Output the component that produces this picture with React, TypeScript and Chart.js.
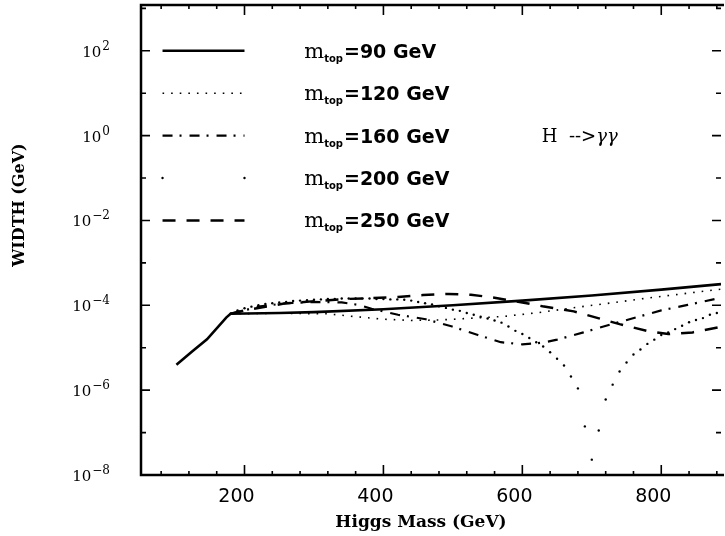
import React, { useEffect, useRef } from "react";
import { Chart, registerables } from "chart.js";

Chart.register(...registerables);

// Higgs mass (GeV) and H -> gamma gamma width (GeV), one pair of arrays per top mass
const mass90 = [102, 125, 146, 174, 180, 250, 300, 400, 500, 600, 700, 800, 886];
const width90 = [3.98e-6, 8.3e-6, 1.58e-5, 5.2e-5, 6.3e-5, 6.6e-5, 6.9e-5, 8.1e-5, 1.0e-4, 1.29e-4, 1.7e-4, 2.34e-4, 3.16e-4];

const mass120 = [180, 250, 320, 360, 400, 440, 480, 530, 575, 625, 690, 730, 780, 830, 886];
const width120 = [6.3e-5, 6.5e-5, 6.3e-5, 5.4e-5, 4.7e-5, 4.4e-5, 4.5e-5, 5.0e-5, 5.5e-5, 6.8e-5, 9.5e-5, 1.15e-4, 1.48e-4, 1.86e-4, 2.4e-4];

const mass160 = [180, 220, 260, 300, 340, 365, 383, 421, 461, 499, 536, 569, 600, 630, 650, 688, 726, 764, 800, 838, 886];
const width160 = [6.3e-5, 9.3e-5, 1.12e-4, 1.2e-4, 1.17e-4, 1.02e-4, 8.3e-5, 6.0e-5, 4.7e-5, 3.16e-5, 2.0e-5, 1.35e-5, 1.2e-5, 1.32e-5, 1.55e-5, 2.3e-5, 3.5e-5, 5.2e-5, 7.6e-5, 1.02e-4, 1.51e-4];

const mass200 = [180, 190, 200, 210, 220, 230, 240, 250, 260, 270, 280, 290, 300, 310, 320, 330, 340, 350, 360, 370, 380, 390, 400, 410, 420, 430, 440, 450, 460, 470, 480, 490, 500, 510, 520, 530, 540, 550, 560, 570, 580, 590, 600, 610, 620, 630, 640, 650, 660, 670, 680, 690, 700, 710, 720, 730, 740, 750, 760, 770, 780, 790, 800, 810, 820, 830, 840, 850, 860, 870, 880];
const width200 = [6.3e-5, 7.6e-5, 8.5e-5, 9.3e-5, 1.0e-4, 1.07e-4, 1.12e-4, 1.17e-4, 1.2e-4, 1.26e-4, 1.29e-4, 1.32e-4, 1.35e-4, 1.38e-4, 1.41e-4, 1.41e-4, 1.45e-4, 1.45e-4, 1.45e-4, 1.45e-4, 1.45e-4, 1.41e-4, 1.41e-4, 1.38e-4, 1.38e-4, 1.35e-4, 1.29e-4, 1.2e-4, 1.12e-4, 1.05e-4, 9.5e-5, 8.7e-5, 7.9e-5, 7.4e-5, 6.6e-5, 6.0e-5, 5.4e-5, 4.9e-5, 4.4e-5, 3.9e-5, 3.16e-5, 2.5e-5, 2.1e-5, 1.7e-5, 1.35e-5, 1.07e-5, 7.8e-6, 5.5e-6, 3.8e-6, 2.1e-6, 1.1e-6, 1.4e-7, 2.3e-8, 1.12e-7, 6.0e-7, 1.35e-6, 2.75e-6, 4.5e-6, 6.9e-6, 9.1e-6, 1.23e-5, 1.55e-5, 2.0e-5, 2.3e-5, 2.75e-5, 3.3e-5, 4.0e-5, 4.5e-5, 5.0e-5, 6.0e-5, 6.6e-5];

const mass250 = [180, 200, 257, 302, 347, 381, 421, 457, 493, 526, 560, 600, 629, 674, 709, 740, 779, 810, 845, 886];
const width250 = [6.3e-5, 7.6e-5, 1.1e-4, 1.26e-4, 1.41e-4, 1.48e-4, 1.58e-4, 1.74e-4, 1.86e-4, 1.78e-4, 1.51e-4, 1.17e-4, 9.5e-5, 7.2e-5, 5.0e-5, 3.6e-5, 2.5e-5, 2.1e-5, 2.3e-5, 3.1e-5];

const topMasses = ["90", "120", "160", "200", "250"];
const legendRowValues = [1e2, 1e1, 1e0, 1e-1, 1e-2];
const xMinorTicks = [80, 120, 160, 200, 240, 280, 320, 360, 400, 440, 480, 520, 560, 600, 640, 680, 720, 760, 800, 840, 880];
const xLabelTicks = [200, 400, 600, 800];
const yDecadeExps = [-8, -7, -6, -5, -4, -3, -2, -1, 0, 1, 2, 3];
const yLabelExps = [2, 0, -2, -4, -6, -8];
const supMap: Record<string, string> = { "-": "\u2212" };

const X_MIN = 51;
const X_MAX = 886;
const Y_MIN = 1e-8;
const Y_MAX = 1.2e3;

type Style = { dash: number[]; width: number; points?: boolean };
const styles: Style[] = [
  { dash: [], width: 2.6 },
  { dash: [1.6, 7], width: 1.6 },
  { dash: [10, 7, 2, 8], width: 2.2 },
  { dash: [], width: 0, points: true },
  { dash: [13, 11], width: 2.5 },
];

const pairs = (xs: number[], ys: number[]) => xs.map((x, i) => ({ x, y: ys[i] }));

const decor = {
  id: "decor",
  afterDatasetsDraw(chart: any) {
    const { ctx, chartArea: a, scales } = chart;
    const xs = scales.x;
    const ys = scales.y;
    ctx.save();
    ctx.strokeStyle = "#000";
    ctx.fillStyle = "#000";
    ctx.setLineDash([]);
    ctx.lineCap = "butt";

    // frame (left, top, bottom)
    ctx.lineWidth = 2.5;
    ctx.beginPath();
    ctx.moveTo(a.right + 3, a.top);
    ctx.lineTo(a.left, a.top);
    ctx.lineTo(a.left, a.bottom);
    ctx.lineTo(a.right + 3, a.bottom);
    ctx.stroke();

    // inward ticks
    ctx.lineWidth = 1.6;
    for (const v of xMinorTicks) {
      const px = xs.getPixelForValue(v);
      const len = xLabelTicks.includes(v) ? 10 : 4;
      ctx.beginPath();
      ctx.moveTo(px, a.bottom);
      ctx.lineTo(px, a.bottom - len);
      ctx.moveTo(px, a.top);
      ctx.lineTo(px, a.top + len);
      ctx.stroke();
    }
    for (const e of yDecadeExps) {
      const py = ys.getPixelForValue(Math.pow(10, e));
      if (py < a.top + 1) continue;
      const len = e % 2 === 0 ? 9 : 5;
      ctx.beginPath();
      ctx.moveTo(a.left, py);
      ctx.lineTo(a.left + len, py);
      ctx.moveTo(a.right, py);
      ctx.lineTo(a.right - len, py);
      ctx.stroke();
    }

    // y tick labels 10^n
    ctx.textBaseline = "alphabetic";
    ctx.textAlign = "left";
    for (const e of yLabelExps) {
      const py = ys.getPixelForValue(Math.pow(10, e));
      const exp = String(e).split("").map((c) => supMap[c] || c).join("");
      ctx.font = "12px 'DejaVu Serif'";
      const ew = ctx.measureText(exp).width;
      const right = a.left - 31;
      ctx.fillText(exp, right - ew, py - 1);
      ctx.font = "15px 'DejaVu Serif'";
      const bw = ctx.measureText("10").width;
      ctx.fillText("10", right - ew - bw - 1, py + 6);
    }

    // axis titles
    ctx.font = "bold 17px 'DejaVu Serif'";
    ctx.textAlign = "center";
    ctx.fillText("Higgs Mass (GeV)", 421, 527);
    ctx.save();
    ctx.translate(24, 205);
    ctx.rotate(-Math.PI / 2);
    ctx.font = "bold 16px 'DejaVu Serif'";
    ctx.fillText("WIDTH (GeV)", 0, 0);
    ctx.restore();

    // legend
    ctx.textAlign = "left";
    const x0 = xs.getPixelForValue(82);
    const x1 = xs.getPixelForValue(200);
    const tx = xs.getPixelForValue(286);
    topMasses.forEach((m, i) => {
      const py = ys.getPixelForValue(legendRowValues[i]);
      const st = styles[i];
      if (st.points) {
        ctx.beginPath();
        ctx.arc(x0, py, 1.2, 0, Math.PI * 2);
        ctx.arc(x1, py, 1.2, 0, Math.PI * 2);
        ctx.fill();
      } else {
        ctx.lineWidth = st.width;
        ctx.setLineDash(st.dash);
        ctx.beginPath();
        ctx.moveTo(x0, py);
        ctx.lineTo(x1, py);
        ctx.stroke();
        ctx.setLineDash([]);
      }
      ctx.font = "21px 'DejaVu Serif'";
      ctx.fillText("m", tx, py + 7);
      const mw = ctx.measureText("m").width;
      ctx.font = "bold 10px 'DejaVu Sans'";
      ctx.fillText("top", tx + mw, py + 11);
      const tw = ctx.measureText("top").width;
      ctx.font = "bold 19px 'DejaVu Sans'";
      ctx.fillText("=" + m + " GeV", tx + mw + tw + 1, py + 7);
    });

    // process label
    const hy = ys.getPixelForValue(1) + 6;
    const hx = xs.getPixelForValue(628);
    ctx.font = "18px 'DejaVu Serif'";
    ctx.fillText("H  -->", hx, hy);
    const hw = ctx.measureText("H  -->").width;
    ctx.font = "italic 18px 'DejaVu Serif'";
    ctx.fillText("\u03b3\u03b3", hx + hw, hy);

    ctx.restore();
  },
};

export default function App() {
  const ref = useRef<HTMLCanvasElement | null>(null);
  useEffect(() => {
    if (!ref.current) return;
    const series = [
      pairs(mass90, width90),
      pairs(mass120, width120),
      pairs(mass160, width160),
      pairs(mass200, width200),
      pairs(mass250, width250),
    ];
    const chart = new Chart(ref.current, {
      type: "line",
      data: {
        datasets: series.map((d, i) => {
          const st = styles[i];
          return {
            label: "m_top=" + topMasses[i] + " GeV",
            data: d,
            borderColor: "#000",
            backgroundColor: "#000",
            borderWidth: st.width,
            borderDash: st.dash,
            showLine: !st.points,
            pointRadius: st.points ? 1.2 : 0,
            pointBorderWidth: 0,
            pointBackgroundColor: "#000",
            tension: 0,
            fill: false,
          };
        }),
      },
      options: {
        animation: false,
        responsive: false,
        devicePixelRatio: 1,
        layout: { padding: { top: 5, right: 0, left: 0, bottom: 0 } },
        plugins: { legend: { display: false }, tooltip: { enabled: false } },
        scales: {
          x: {
            type: "linear",
            min: X_MIN,
            max: X_MAX,
            grid: { display: false, drawTicks: false },
            border: { display: false },
            afterBuildTicks: (s: any) => {
              s.ticks = xLabelTicks.map((v) => ({ value: v }));
            },
            afterFit: (s: any) => {
              s.height = 61;
            },
            ticks: {
              color: "#000",
              font: { family: "'DejaVu Sans'", size: 19 },
              padding: 11,
              labelOffset: -8,
              maxRotation: 0,
              autoSkip: false,
              callback: (v: any) => String(v),
            },
          },
          y: {
            type: "logarithmic",
            min: Y_MIN,
            max: Y_MAX,
            grid: { display: false, drawTicks: false },
            border: { display: false },
            ticks: { display: false },
            afterFit: (s: any) => {
              s.width = 141;
            },
          },
        },
      },
      plugins: [decor],
    } as any);
    return () => chart.destroy();
  }, []);
  return (
    <div style={{ position: "fixed", left: 0, top: 0, width: 725, height: 536, background: "#fff" }}>
      <canvas ref={ref} width={725} height={536} style={{ width: 725, height: 536, display: "block" }} />
    </div>
  );
}
